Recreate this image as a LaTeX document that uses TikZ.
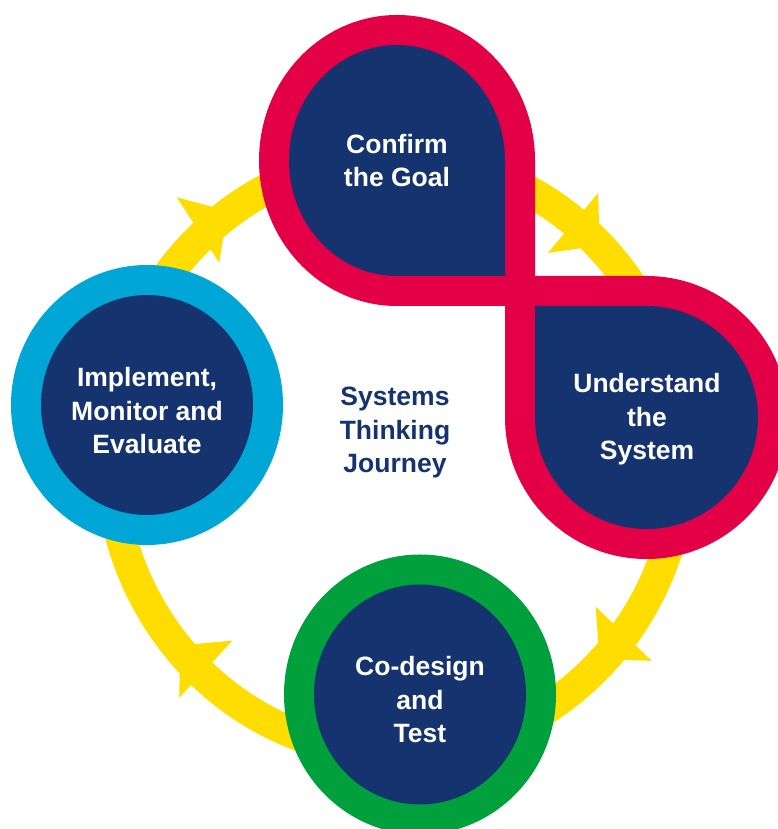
\documentclass[tikz,border=0pt]{standalone}
\usepackage{fontspec}
\setmainfont{Liberation Sans}
\definecolor{stagenavy}{HTML}{15346F}
\definecolor{stagered}{HTML}{E40046}
\definecolor{stagecyan}{HTML}{00A6D6}
\definecolor{stagegreen}{HTML}{00A03C}
\definecolor{loopyellow}{HTML}{FFDD00}
\begin{document}
\begin{tikzpicture}[x=1pt,y=1pt,
  stagetext/.style={font=\bfseries\fontsize{26.5}{33.5}\selectfont,
    align=center, inner sep=0pt, text=white},
  titletext/.style={stagetext, text=stagenavy},
  loopband/.style={draw=loopyellow, line width=31},
  looptip/.style={fill=loopyellow}]
\useasboundingbox (0,0) rectangle (777,829);

% the yellow loop behind the stages
\draw[loopband] (396,374) ellipse[x radius=286, y radius=298];

% arrowheads along the loop (clockwise)
\foreach \mx/\my/\ang in {198/599/33, 573/606/-40, 623.7/195.2/-134, 205.8/159.8/137}
  \fill[looptip, shift={(\mx,\my)}, rotate=\ang] (35,0) -- (0,39) -- (0,-39) -- cycle;

% Implement, Monitor and Evaluate
\fill[stagecyan] (147,424) ellipse[x radius=136, y radius=140];
\fill[stagenavy] (147,424) ellipse[x radius=106, y radius=110];

% Co-design and Test
\fill[stagegreen] (420,134.5) ellipse[x radius=136, y radius=140];
\fill[stagenavy] (420,134.5) ellipse[x radius=106, y radius=110];

% the two joined teardrops: outer red, then navy fill
\fill[stagered] (535,668.5)
  arc[start angle=0, end angle=180, x radius=138, y radius=145.5]
  arc[start angle=180, end angle=270, x radius=138, y radius=145.5]
  -- (535,523) -- cycle;
\fill[stagered] (505,411.5) -- (505,553) -- (646.5,553)
  arc[start angle=90, end angle=-180, radius=141.5] -- cycle;
\fill[stagenavy] (505,668.5)
  arc[start angle=0, end angle=180, x radius=108, y radius=115.5]
  arc[start angle=180, end angle=270, x radius=108, y radius=115.5]
  -- (505,553) -- cycle;
\fill[stagenavy] (535,411.5) -- (535,523) -- (646.5,523)
  arc[start angle=90, end angle=-180, radius=111.5] -- cycle;

% labels
\node[stagetext] (goal) at (397,668.7) {Confirm\\the Goal};
\node[stagetext] (system) at (647,409.5) {Understand\\the\\System};
\node[stagetext] (codesign) at (420,129) {Co-design\\and\\Test};
\node[stagetext] (implement) at (147,418.3) {Implement,\\Monitor and\\Evaluate};
\node[titletext] (journey) at (395,396.3) {Systems\\Thinking\\Journey};
\end{tikzpicture}
\end{document}
